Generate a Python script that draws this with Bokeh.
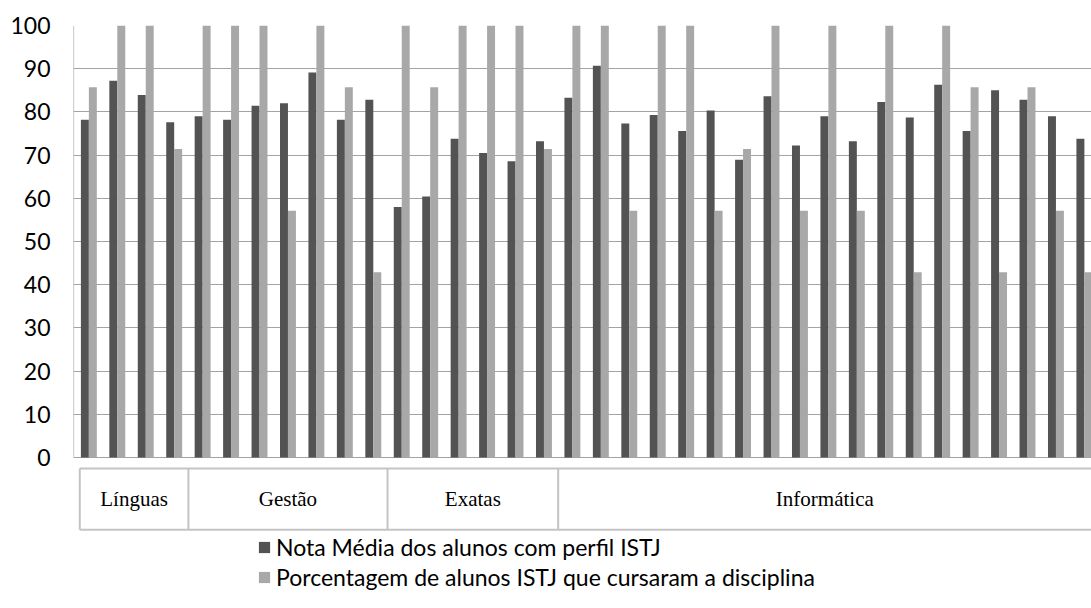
import numpy as np
from bokeh.plotting import figure
from bokeh.models import (Range1d, FixedTicker, ColumnDataSource, Legend, LegendItem)
from bokeh.transform import dodge
from bokeh.core.properties import value
from bokeh.embed import file_html
from bokeh.resources import INLINE

# ---------------- data ----------------
groups = ["Línguas", "Gestão", "Exatas", "Informática"]
group_sizes = [4, 7, 6, 19]

nota_media = [78.2, 87.2, 83.9, 77.6,
              79.0, 78.2, 81.4, 82.0, 89.1, 78.2, 82.8,
              58.0, 60.4, 73.8, 70.5, 68.6, 73.2,
              83.3, 90.7, 77.3, 79.3, 75.6, 80.3, 68.9, 83.6, 72.2, 79.0,
              73.2, 82.3, 78.7, 86.3, 75.6, 85.0, 82.8, 79.0, 73.8]

porcentagem = [85.7, 100, 100, 71.4,
               100, 100, 100, 57.1, 100, 85.7, 42.9,
               100, 85.7, 100, 100, 100, 71.4,
               100, 100, 57.1, 100, 100, 57.1, 71.4, 100, 57.1, 100,
               57.1, 100, 42.9, 100, 85.7, 42.9, 85.7, 57.1, 42.9]

y_ticks = [0, 10, 20, 30, 40, 50, 60, 70, 80, 90, 100]

label_nota = "Nota Média dos alunos com perfil ISTJ"
label_pct = "Porcentagem de alunos ISTJ que cursaram a disciplina"

# ---------------- layout / style ----------------
DARK = "#535353"
LIGHT = "#a8a8a8"
GRID = "#a3a3a3"
TABLE = "#c4c4c4"
BAR_W = 0.28

n = len(nota_media)
x_center = np.arange(n) + 0.5

src = ColumnDataSource(dict(x=x_center, nota=nota_media, pct=porcentagem))

x_start, x_end = -0.04, 35.75
p = figure(width=1091, height=600, output_backend="svg", toolbar_location=None,
           x_range=Range1d(x_start, x_end), y_range=Range1d(-33.1, 100),
           min_border_left=73, min_border_right=0, min_border_top=25,
           min_border_bottom=0)
p.outline_line_color = None
p.background_fill_color = "white"
p.border_fill_color = "white"

p.xaxis.visible = False
p.xgrid.visible = False
p.yaxis.ticker = FixedTicker(ticks=y_ticks)
p.ygrid.ticker = FixedTicker(ticks=y_ticks)
p.ygrid.grid_line_color = GRID
p.ygrid.grid_line_width = 1.2
p.yaxis.axis_line_color = None
p.yaxis.major_tick_line_color = None
p.yaxis.minor_tick_line_color = None
p.yaxis.major_tick_out = 0
p.yaxis.major_tick_in = 0
p.yaxis.major_label_standoff = 23
p.yaxis.major_label_text_font = "Lato"
p.yaxis.major_label_text_font_size = "23px"
p.yaxis.major_label_text_color = "#000000"

# left border of the plot area
p.segment(x0=[x_start], y0=[0], x1=[x_start], y1=[max(y_ticks)],
          line_color=GRID, line_width=1.2)

r_nota = p.vbar(x=dodge("x", -BAR_W / 2), top="nota", bottom=0, width=BAR_W,
                source=src, fill_color=DARK, line_color=None)
r_pct = p.vbar(x=dodge("x", BAR_W / 2), top="pct", bottom=0, width=BAR_W,
               source=src, fill_color=LIGHT, line_color=None)

# category table below the plot
table_top, table_bot = -2.55, -16.7
bounds = np.concatenate([[0], np.cumsum(group_sizes)]).astype(float)
left_edge = bounds.copy()
left_edge[0] = 0.18
p.segment(x0=[left_edge[0], left_edge[0]], y0=[table_top, table_bot],
          x1=[x_end + 1, x_end + 1], y1=[table_top, table_bot],
          line_color=TABLE, line_width=2)
p.segment(x0=left_edge, y0=[table_top] * len(left_edge),
          x1=left_edge, y1=[table_bot] * len(left_edge),
          line_color=TABLE, line_width=2)
right_vis = np.minimum(bounds[1:], x_end)
centers = (left_edge[:-1] + right_vis) / 2
p.text(x=centers, y=[(table_top + table_bot) / 2] * len(groups), text=groups,
       text_align="center", text_baseline="middle",
       text_font=value("Liberation Serif"), text_font_size="21px",
       text_color="#000000")

leg_style = dict(orientation="vertical", glyph_width=14, glyph_height=14,
                 label_standoff=5, padding=0, margin=0,
                 border_line_color=None, background_fill_alpha=0,
                 label_text_font="Lato", label_text_font_size="23px",
                 label_text_color="#000000")
legend1 = Legend(items=[LegendItem(label=label_nota, renderers=[r_nota])],
                 location=(184, 39), **leg_style)
legend2 = Legend(items=[LegendItem(label=label_pct, renderers=[r_pct])],
                 location=(184, 9), **leg_style)
p.add_layout(legend1, "center")
p.add_layout(legend2, "center")

open("out.html", "w").write(file_html(p, INLINE))
